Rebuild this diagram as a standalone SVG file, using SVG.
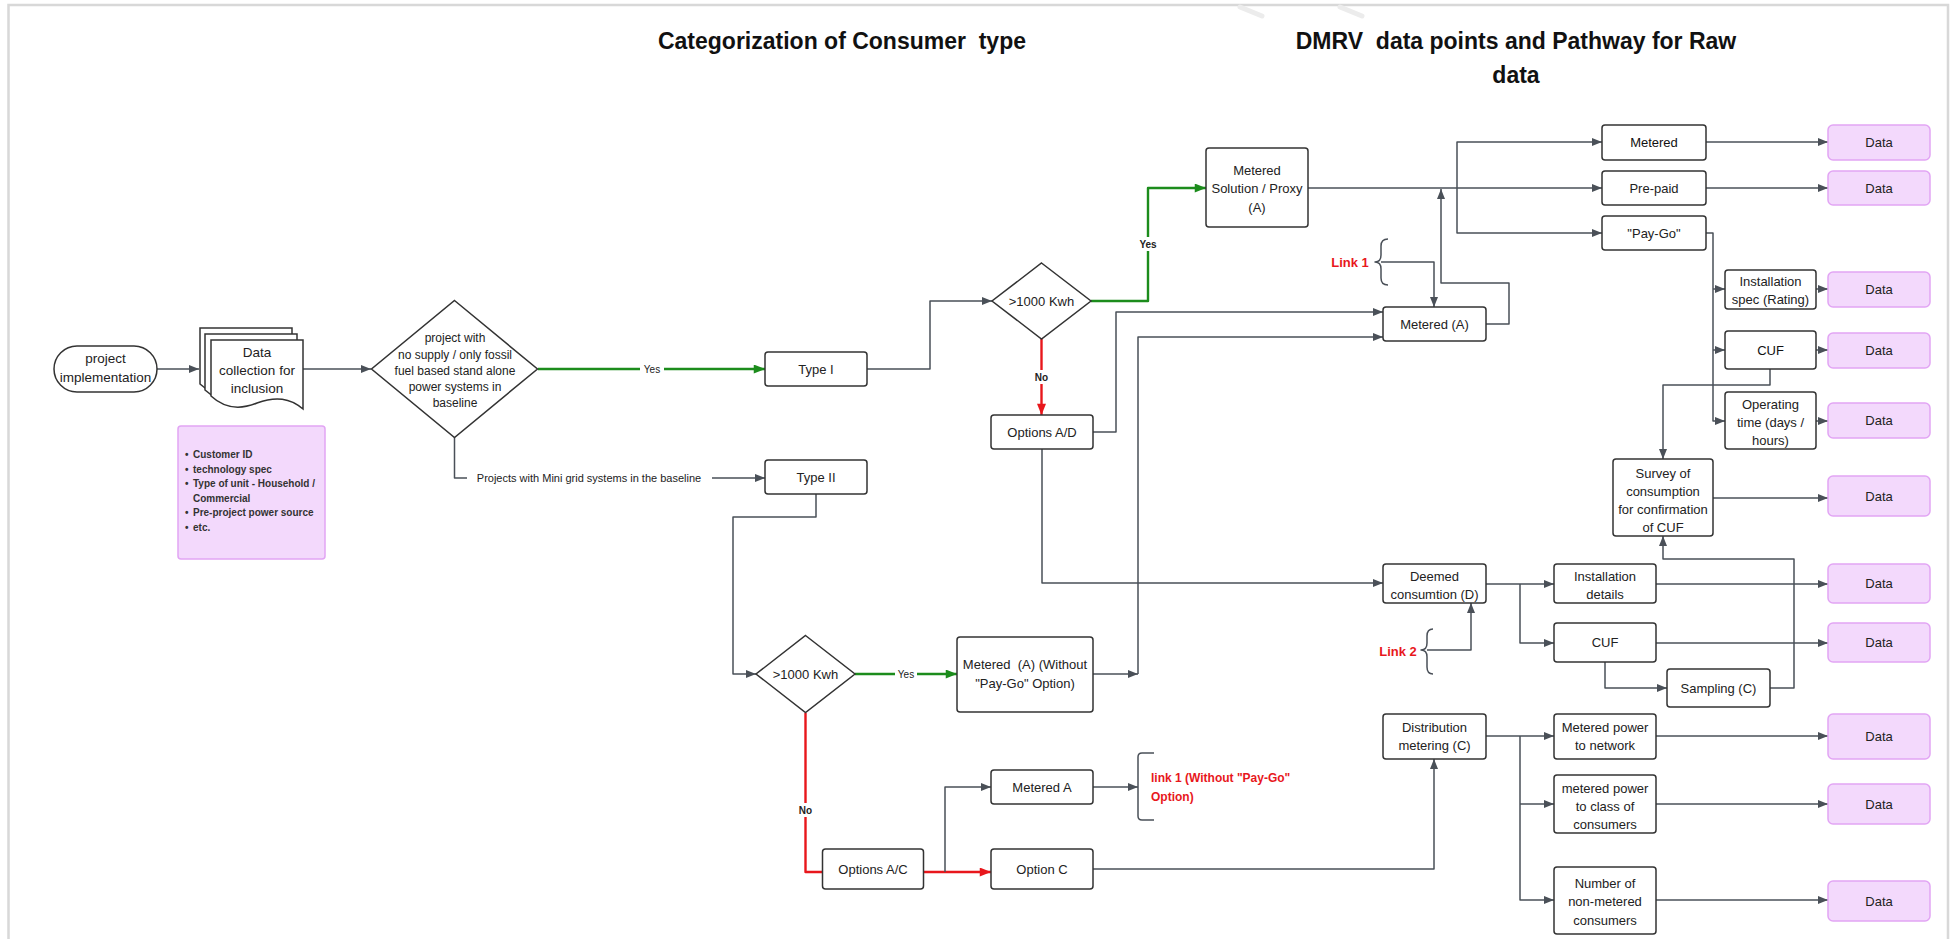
<svg xmlns="http://www.w3.org/2000/svg" width="1951" height="939" viewBox="0 0 1951 939">
<defs>
<style>
.n{fill:#fff;stroke:#333;stroke-width:1.5}
.d{fill:#f3d9fc;stroke:#e2a5f4;stroke-width:1.5}
.t{font-family:"Liberation Sans",Arial,sans-serif;font-size:13px;fill:#222;text-anchor:middle;dominant-baseline:central}
.s{font-size:12px}
.b{font-weight:bold}
.c{fill:none;stroke:#4a5058;stroke-width:1.5;stroke-linejoin:round}
.g{stroke:#1c8c1c;stroke-width:2.4}
.r{stroke:#e8171c;stroke-width:2.4}
.red{fill:#e8171c;font-weight:bold}
.lbg{fill:#fff}
.pre{white-space:pre}
.note{font-family:"Liberation Sans",Arial,sans-serif;font-size:10px;font-weight:bold;fill:#333}
.title{font-family:"Liberation Sans",Arial,sans-serif;font-size:23px;font-weight:bold;fill:#111;text-anchor:middle;white-space:pre}
</style>
<marker id="ad" viewBox="0 0 10 8" refX="10" refY="4" markerWidth="11" markerHeight="8" markerUnits="userSpaceOnUse" orient="auto"><path d="M0,0 L10,4 L0,8 z" fill="#4a5058"/></marker>
<marker id="ag" viewBox="0 0 10 8" refX="10" refY="4" markerWidth="12" markerHeight="9" markerUnits="userSpaceOnUse" orient="auto"><path d="M0,0 L10,4 L0,8 z" fill="#1c8c1c"/></marker>
<marker id="ar" viewBox="0 0 10 8" refX="10" refY="4" markerWidth="12" markerHeight="9" markerUnits="userSpaceOnUse" orient="auto"><path d="M0,0 L10,4 L0,8 z" fill="#e8171c"/></marker>
</defs>
<rect x="0" y="0" width="1951" height="939" fill="#fff"/>
<path d="M8.5,939 V5 H1948 V939" fill="none" stroke="#d8d8d8" stroke-width="2.5"/>
<path d="M1240,7 L1262,16 M1340,7 L1362,16" fill="none" stroke="#ececec" stroke-width="5" stroke-linecap="round"/>

<g id="titles">
<text x="842" y="49" class="title">Categorization of Consumer  type</text>
<text x="1516" y="49" class="title">DMRV  data points and Pathway for Raw</text>
<text x="1516" y="83" class="title">data</text>
</g>

<g id="connectors">
<path d="M157,369 H199" class="c" marker-end="url(#ad)"/>
<path d="M303,369 H371" class="c" marker-end="url(#ad)"/>
<path d="M538,369 H765" class="c g" marker-end="url(#ag)"/>
<path d="M454.5,437.5 V478 H765" class="c" marker-end="url(#ad)"/>
<path d="M867,369 H930 V301 H992" class="c" marker-end="url(#ad)"/>
<path d="M1091,301 H1148 V188 H1206" class="c g" marker-end="url(#ag)"/>
<path d="M1041.5,339 V415" class="c r" marker-end="url(#ar)"/>
<path d="M1093,432 H1116 V312 H1383" class="c" marker-end="url(#ad)"/>
<path d="M1042,449 V583 H1383" class="c" marker-end="url(#ad)"/>
<path d="M1308,188 H1602" class="c" marker-end="url(#ad)"/>
<path d="M1457,188 V142 H1602" class="c" marker-end="url(#ad)"/>
<path d="M1457,188 V233 H1602" class="c" marker-end="url(#ad)"/>
<path d="M1706,142 H1828" class="c" marker-end="url(#ad)"/>
<path d="M1706,188 H1828" class="c" marker-end="url(#ad)"/>
<path d="M1706,233 H1713 V421 H1725" class="c" marker-end="url(#ad)"/>
<path d="M1713,289 H1725" class="c" marker-end="url(#ad)"/>
<path d="M1713,350 H1725" class="c" marker-end="url(#ad)"/>
<path d="M1816,289 H1828" class="c" marker-end="url(#ad)"/>
<path d="M1816,350 H1828" class="c" marker-end="url(#ad)"/>
<path d="M1816,421 H1828" class="c" marker-end="url(#ad)"/>
<path d="M1770,369 V385 H1663 V459" class="c" marker-end="url(#ad)"/>
<path d="M1713,498 H1828" class="c" marker-end="url(#ad)"/>
<path d="M1486,324 H1509 V283 H1441 V189" class="c" marker-end="url(#ad)"/>
<path d="M1381,262 H1434 V307" class="c" marker-end="url(#ad)"/>
<path d="M1093,674 H1138" class="c" marker-end="url(#ad)"/>
<path d="M1138,674 V337 H1383" class="c" marker-end="url(#ad)"/>
<path d="M855,674 H957" class="c g" marker-end="url(#ag)"/>
<path d="M816,494 V517 H733 V674 H756" class="c" marker-end="url(#ad)"/>
<path d="M805.5,713 V872 H822.5" class="c r"/>
<path d="M923.5,872 H991" class="c r" marker-end="url(#ar)"/>
<path d="M945,872 V787 H991" class="c" marker-end="url(#ad)"/>
<path d="M1093,787 H1138" class="c" marker-end="url(#ad)"/>
<path d="M1093,869 H1434 V759" class="c" marker-end="url(#ad)"/>
<path d="M1486,584 H1554" class="c" marker-end="url(#ad)"/>
<path d="M1520,584 V643 H1554" class="c" marker-end="url(#ad)"/>
<path d="M1427,650 H1471 V603" class="c" marker-end="url(#ad)"/>
<path d="M1656,584 H1828" class="c" marker-end="url(#ad)"/>
<path d="M1656,643 H1828" class="c" marker-end="url(#ad)"/>
<path d="M1605,662 V688 H1667" class="c" marker-end="url(#ad)"/>
<path d="M1770,688 H1794 V559 H1663 V536" class="c" marker-end="url(#ad)"/>
<path d="M1486,736 H1554" class="c" marker-end="url(#ad)"/>
<path d="M1520,736 V900 H1554" class="c" marker-end="url(#ad)"/>
<path d="M1520,804 H1554" class="c" marker-end="url(#ad)"/>
<path d="M1656,736 H1828" class="c" marker-end="url(#ad)"/>
<path d="M1656,804 H1828" class="c" marker-end="url(#ad)"/>
<path d="M1656,900 H1828" class="c" marker-end="url(#ad)"/>
<rect x="640" y="362" width="24" height="14" class="lbg"/>
<text x="652" y="369" class="t" style="font-size:10px">Yes</text>
<rect x="467" y="471" width="245" height="14" class="lbg"/>
<text x="589" y="478" class="t" style="font-size:11px">Projects with Mini grid systems in the baseline</text>
<rect x="1137" y="237" width="22" height="14" class="lbg"/>
<text x="1148" y="244" class="t b" style="font-size:10px">Yes</text>
<rect x="1032" y="370" width="19" height="14" class="lbg"/>
<text x="1041.5" y="377" class="t b" style="font-size:10px">No</text>
<rect x="895" y="667" width="22" height="14" class="lbg"/>
<text x="906" y="674" class="t" style="font-size:10px">Yes</text>
<rect x="796" y="803" width="19" height="14" class="lbg"/>
<text x="805.5" y="810" class="t b" style="font-size:10px">No</text>
</g>

<g id="n-start"><rect x="54" y="346" width="103" height="46" rx="23" class="n"/><text x="105.5" y="358" class="t" style="font-size:13.5px">project</text><text x="105.5" y="377" class="t" style="font-size:13.5px">implementation</text></g>

<g id="n-docs">
<path d="M200,328 H292 V397 C279,386 265,384 246,391 C229,398 214,397 200,384 Z" class="n"/>
<path d="M205,334 H297 V403 C284,392 270,390 251,397 C234,404 219,403 205,390 Z" class="n"/>
<path d="M211,340 H303 V409 C290,398 276,396 257,403 C240,410 225,409 211,396 Z" class="n"/>
<text x="257" y="352" class="t" style="font-size:13.5px">Data</text>
<text x="257" y="370" class="t" style="font-size:13.5px">collection for</text>
<text x="257" y="388" class="t" style="font-size:13.5px">inclusion</text>
</g>

<g id="n-note">
<rect x="178" y="426" width="147" height="133" rx="3" class="d"/>
<text class="note"><tspan x="185" y="458">•</tspan><tspan x="193" y="458">Customer ID</tspan><tspan x="185" y="472.5">•</tspan><tspan x="193" y="472.5">technology spec</tspan><tspan x="185" y="487">•</tspan><tspan x="193" y="487">Type of unit - Household /</tspan><tspan x="193" y="501.5">Commercial</tspan><tspan x="185" y="516">•</tspan><tspan x="193" y="516">Pre-project power source</tspan><tspan x="185" y="530.5">•</tspan><tspan x="193" y="530.5">etc.</tspan></text>
</g>

<g id="n-dec1">
<path d="M454.5,300.5 L537.5,369 L454.5,437.5 L371.5,369 Z" class="n"/>
<text x="455" y="338" class="t s">project with</text>
<text x="455" y="354.5" class="t s">no supply / only fossil</text>
<text x="455" y="371" class="t s">fuel based stand alone</text>
<text x="455" y="387" class="t s">power systems in</text>
<text x="455" y="403" class="t s">baseline</text>
</g>

<g id="n-type1"><rect x="765" y="352" width="102" height="34" rx="3" class="n"/><text x="816" y="369" class="t">Type I</text></g>
<g id="n-type2"><rect x="765" y="460" width="102" height="34" rx="3" class="n"/><text x="816" y="477" class="t">Type II</text></g>

<g id="n-dec2"><path d="M1041.5,263 L1091,301 L1041.5,339 L992,301 Z" class="n"/><text x="1041.5" y="301" class="t">&gt;1000 Kwh</text></g>
<g id="n-dec3"><path d="M805.5,635.5 L855,674 L805.5,712.5 L756,674 Z" class="n"/><text x="805.5" y="674" class="t">&gt;1000 Kwh</text></g>

<g id="n-optAD"><rect x="991" y="415" width="102" height="34" rx="3" class="n"/><text x="1042" y="432" class="t">Options A/D</text></g>
<g id="n-msp"><rect x="1206" y="148" width="102" height="79" rx="3" class="n"/><text x="1257" y="170.5" class="t">Metered</text><text x="1257" y="188.5" class="t">Solution / Proxy</text><text x="1257" y="207" class="t">(A)</text></g>
<g id="n-meteredA"><rect x="1383" y="307" width="103" height="34" rx="3" class="n"/><text x="1434.5" y="324" class="t">Metered (A)</text></g>
<g id="n-link1"><text x="1350" y="262" class="t red">Link 1</text><path d="M1388,239 Q1381,239 1381,246 V255 Q1381,262 1375,262 Q1381,262 1381,269 V278 Q1381,285 1388,285" class="c"/></g>

<g id="n-metered"><rect x="1602" y="125" width="104" height="35" rx="3" class="n"/><text x="1654" y="142.5" class="t" style="fill:#111">Metered</text></g>
<g id="n-prepaid"><rect x="1602" y="171" width="104" height="34" rx="3" class="n"/><text x="1654" y="188" class="t">Pre-paid</text></g>
<g id="n-paygo"><rect x="1602" y="216" width="104" height="34" rx="3" class="n"/><text x="1654" y="233" class="t">"Pay-Go"</text></g>
<g id="n-inst"><rect x="1725" y="270" width="91" height="39" rx="3" class="n"/><text x="1770.5" y="281" class="t">Installation</text><text x="1770.5" y="299" class="t">spec (Rating)</text></g>
<g id="n-cuf1"><rect x="1725" y="331" width="91" height="38" rx="3" class="n"/><text x="1770.5" y="350" class="t" style="fill:#111">CUF</text></g>
<g id="n-optime"><rect x="1725" y="392" width="91" height="57" rx="3" class="n"/><text x="1770.5" y="404" class="t">Operating</text><text x="1770.5" y="422" class="t">time (days /</text><text x="1770.5" y="440" class="t">hours)</text></g>
<g id="n-survey"><rect x="1613" y="459" width="100" height="77" rx="3" class="n"/><text x="1663" y="473" class="t">Survey of</text><text x="1663" y="491" class="t">consumption</text><text x="1663" y="509.5" class="t">for confirmation</text><text x="1663" y="527.5" class="t">of CUF</text></g>

<g id="n-deemed"><rect x="1383" y="564" width="103" height="39" rx="3" class="n"/><text x="1434.5" y="576" class="t">Deemed</text><text x="1434.5" y="594" class="t">consumtion (D)</text></g>
<g id="n-link2"><text x="1398" y="651" class="t red">Link 2</text><path d="M1433,629 Q1427,629 1427,636 V643 Q1427,650 1421,650 Q1427,650 1427,657 V667 Q1427,674 1433,674" class="c"/></g>
<g id="n-instdet"><rect x="1554" y="564" width="102" height="39" rx="3" class="n"/><text x="1605" y="576" class="t">Installation</text><text x="1605" y="594" class="t">details</text></g>
<g id="n-cuf2"><rect x="1554" y="623" width="102" height="39" rx="3" class="n"/><text x="1605" y="642.5" class="t">CUF</text></g>
<g id="n-sampling"><rect x="1667" y="669" width="103" height="38" rx="3" class="n"/><text x="1718.5" y="688" class="t">Sampling (C)</text></g>

<g id="n-dist"><rect x="1383" y="714" width="103" height="45" rx="3" class="n"/><text x="1434.5" y="727" class="t">Distribution</text><text x="1434.5" y="745" class="t">metering (C)</text></g>
<g id="n-mpn"><rect x="1554" y="714" width="102" height="45" rx="3" class="n"/><text x="1605" y="727" class="t">Metered power</text><text x="1605" y="745" class="t">to network</text></g>
<g id="n-mpc"><rect x="1554" y="775" width="102" height="58" rx="3" class="n"/><text x="1605" y="788" class="t">metered power</text><text x="1605" y="806" class="t">to class of</text><text x="1605" y="824" class="t">consumers</text></g>
<g id="n-nmc"><rect x="1554" y="867" width="102" height="67" rx="3" class="n"/><text x="1605" y="883" class="t">Number of</text><text x="1605" y="901.5" class="t">non-metered</text><text x="1605" y="920" class="t">consumers</text></g>

<g id="n-maw"><rect x="957" y="637" width="136" height="75" rx="3" class="n"/><text x="1025" y="664" class="t pre">Metered  (A) (Without</text><text x="1025" y="683" class="t">"Pay-Go" Option)</text></g>
<g id="n-optAC"><rect x="822.5" y="849" width="101" height="40" rx="3" class="n"/><text x="873" y="869" class="t">Options A/C</text></g>
<g id="n-meteredA2"><rect x="991" y="770" width="102" height="34" rx="3" class="n"/><text x="1042" y="787" class="t">Metered A</text></g>
<g id="n-optC"><rect x="991" y="849" width="102" height="40" rx="3" class="n"/><text x="1042" y="869" class="t">Option C</text></g>
<g id="n-link1b"><path d="M1154,753 H1142 Q1138,753 1138,757 V816 Q1138,820 1142,820 H1154" class="c"/><text x="1151" y="778" class="red" style="font-family:'Liberation Sans',Arial,sans-serif;font-size:12px;dominant-baseline:central">link 1 (Without "Pay-Go"</text><text x="1151" y="797" class="red" style="font-family:'Liberation Sans',Arial,sans-serif;font-size:12px;dominant-baseline:central">Option)</text></g>

<g id="n-data">
<rect x="1828" y="125" width="102" height="35" rx="5" class="d"/><text x="1879" y="142.5" class="t">Data</text>
<rect x="1828" y="171" width="102" height="34" rx="5" class="d"/><text x="1879" y="188" class="t">Data</text>
<rect x="1828" y="272" width="102" height="35" rx="5" class="d"/><text x="1879" y="289.5" class="t">Data</text>
<rect x="1828" y="333" width="102" height="35" rx="5" class="d"/><text x="1879" y="350.5" class="t">Data</text>
<rect x="1828" y="403" width="102" height="35" rx="5" class="d"/><text x="1879" y="420.5" class="t">Data</text>
<rect x="1828" y="476" width="102" height="40" rx="5" class="d"/><text x="1879" y="496" class="t">Data</text>
<rect x="1828" y="564" width="102" height="39" rx="5" class="d"/><text x="1879" y="583.5" class="t">Data</text>
<rect x="1828" y="623" width="102" height="39" rx="5" class="d"/><text x="1879" y="642.5" class="t">Data</text>
<rect x="1828" y="714" width="102" height="45" rx="5" class="d"/><text x="1879" y="736.5" class="t">Data</text>
<rect x="1828" y="784" width="102" height="40" rx="5" class="d"/><text x="1879" y="804" class="t">Data</text>
<rect x="1828" y="881" width="102" height="40" rx="5" class="d"/><text x="1879" y="901" class="t">Data</text>
</g>
</svg>
